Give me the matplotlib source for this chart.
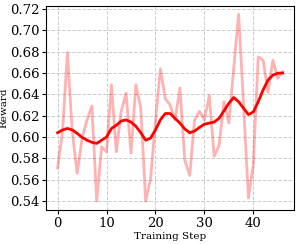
import numpy as np
import matplotlib
matplotlib.use("Agg")
import matplotlib.pyplot as plt

# Recompensa por paso de entrenamiento
pasos = list(range(47))
recompensa = [0.571, 0.605, 0.679, 0.605, 0.566, 0.599, 0.616, 0.629, 0.540, 0.591,
              0.586, 0.649, 0.586, 0.624, 0.641, 0.585, 0.649, 0.627, 0.540, 0.561,
              0.614, 0.664, 0.636, 0.630, 0.616, 0.646, 0.578, 0.564, 0.616, 0.624,
              0.616, 0.639, 0.582, 0.592, 0.633, 0.613, 0.665, 0.715, 0.630, 0.543,
              0.574, 0.675, 0.672, 0.642, 0.672, 0.655, 0.661]
# Curva suavizada
suavizada = [0.604, 0.6066, 0.608, 0.6066, 0.6034, 0.5997, 0.597, 0.595, 0.594, 0.597,
             0.600, 0.608, 0.611, 0.615, 0.616, 0.614, 0.610, 0.604, 0.597, 0.599,
             0.6066, 0.616, 0.622, 0.622, 0.6175, 0.613, 0.6075, 0.604, 0.6056, 0.609,
             0.612, 0.613, 0.614, 0.6175, 0.6245, 0.6316, 0.637, 0.633, 0.627, 0.621,
             0.6235, 0.633, 0.644, 0.6534, 0.658, 0.6597, 0.660]

plt.rcParams['font.family'] = 'DejaVu Serif'

fig = plt.figure(figsize=(2.99, 2.44), dpi=100)
ax = fig.add_axes([0.155, 0.138, 0.828, 0.839])
ax.plot(pasos, recompensa, color='red', alpha=0.3, linewidth=2)
ax.plot(pasos, suavizada, color='red', linewidth=2)
ax.set_xlabel('Training Step', fontsize=7.5, labelpad=1)
ax.set_ylabel('Reward', fontsize=7.5, labelpad=1)
ax.set_xticks([0, 10, 20, 30, 40])
ax.set_yticks(np.arange(0.54, 0.7201, 0.02))
ax.set_ylim(0.5313, 0.7231)
ax.tick_params(labelsize=9.5, length=3, pad=2)
ax.grid(True, linestyle='--', color='#cccccc', linewidth=0.7)
fig.savefig('out.png', dpi=100)
